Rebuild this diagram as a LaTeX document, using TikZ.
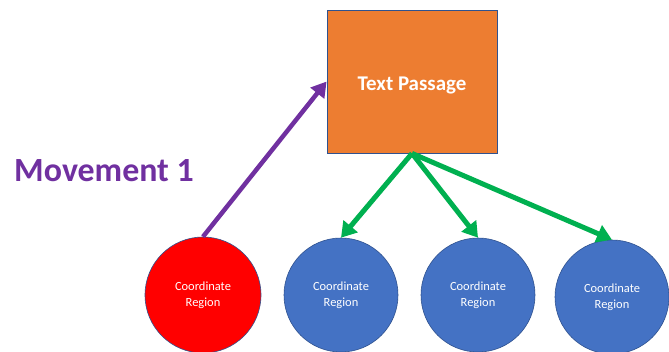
\documentclass[tikz,border=0pt]{standalone}
\usepackage{fontspec}
\setmainfont{Carlito}
\usetikzlibrary{arrows.meta}
\definecolor{boxorange}{HTML}{ED7D31}
\definecolor{regionblue}{HTML}{4472C4}
\definecolor{edgeblue}{HTML}{2F528F}
\definecolor{movepurple}{HTML}{7030A0}
\definecolor{linkgreen}{HTML}{00B050}
\definecolor{regionred}{HTML}{FF0000}
\tikzset{
  region/.style={circle, draw=edgeblue, line width=0.6bp, minimum size=114bp,
    inner sep=0pt, text=white, font=\fontsize{12.5}{16}\selectfont, align=center},
  passagebox/.style={draw=edgeblue, line width=0.8bp, fill=boxorange,
    minimum width=170bp, minimum height=143bp, inner sep=0pt, text=white,
    font=\fontsize{21}{25}\selectfont\bfseries},
  movearrow/.style={draw=movepurple, line width=4.5bp,
    -{Triangle[length=15bp,width=17bp]}},
  linkarrow/.style={draw=linkgreen, line width=5bp,
    -{Triangle[length=15bp,width=18bp]}}
}
\begin{document}
\begin{tikzpicture}[x=1bp,y=-1bp]
  \useasboundingbox (0,0) rectangle (669,351);
  \node[passagebox] (passage) at (412,81.5) {\raisebox{-3.5bp}[\height][\depth]{Text Passage}};
  \node[region, fill=regionred, minimum size=116bp] (c1) at (203,295) {Coordinate\\Region};
  \node[region, fill=regionblue] (c2) at (341,295) {Coordinate\\Region};
  \node[region, fill=regionblue] (c3) at (478,295) {Coordinate\\Region};
  \node[region, fill=regionblue] (c4) at (612,297) {Coordinate\\Region};
  \node[text=movepurple, font=\fontsize{34}{40}\selectfont\bfseries] (label) at (104,171) {Movement 1};
  \draw[movearrow] (c1.north) -- (passage.west);
  \draw[linkarrow] (passage.south) -- (c2.north);
  \draw[linkarrow] (passage.south) -- (c3.north);
  \draw[linkarrow] (passage.south) -- (c4.north);
\end{tikzpicture}
\end{document}
